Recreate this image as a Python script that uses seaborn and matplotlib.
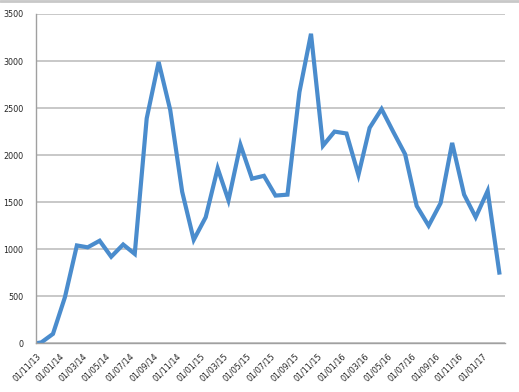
import matplotlib
matplotlib.use("Agg")
import matplotlib.pyplot as plt
import matplotlib.dates as mdates
from matplotlib.lines import Line2D
import seaborn as sns
import pandas as pd

dates = ["2013-11-01"] + [f"{y}-{m:02d}-15" for y, m in
         [(2013, 11), (2013, 12)] + [(2014, m) for m in range(1, 13)] +
         [(2015, m) for m in range(1, 13)] + [(2016, m) for m in range(1, 13)] +
         [(2017, 1), (2017, 2)]]
values = [0, 10, 100, 490, 1040, 1020, 1090, 920, 1050, 950,
          2390, 2990, 2480, 1610, 1100, 1340, 1860, 1520, 2110, 1750,
          1780, 1570, 1580, 2670, 3290, 2100, 2250, 2230, 1790, 2290,
          2490, 2250, 2010, 1460, 1250, 1490, 2130, 1580, 1340, 1620, 730]
tick_dates = pd.date_range("2013-11-01", "2017-01-01", freq="2MS")
tick_labels = [d.strftime("%d/%m/%y") for d in tick_dates]

df = pd.DataFrame({"date": pd.to_datetime(dates), "value": values})

sns.set_style("white")
plt.rcParams["font.family"] = ["DejaVu Sans"]

fig = plt.figure(figsize=(5.19, 3.92), dpi=100)
ax = fig.add_axes([36/519, 1-343.3/392, (505-36)/519, (343.3-14)/392])

sns.lineplot(data=df, x="date", y="value", ax=ax, color="#4a8ccd",
             linewidth=3.0, solid_joinstyle="miter", solid_capstyle="butt")

ax.set_xlim(pd.Timestamp("2013-11-01"), pd.Timestamp("2017-03-01"))
ax.set_ylim(0, 3500)
ax.set_yticks(range(0, 3501, 500))
ax.yaxis.grid(True, color="#c4c4c4", linewidth=1.3)
ax.set_axisbelow(True)
ax.set_xticks(list(tick_dates) + [pd.Timestamp("2017-03-01")])
ax.set_xticklabels(tick_labels + [""], rotation=45, ha="right",
                   rotation_mode="anchor", fontsize=5.8)
ax.tick_params(axis="y", labelsize=5.8, length=3, color="#999999", pad=6)
ax.tick_params(axis="x", length=4, color="#999999", pad=2)
ax.set_xlabel("")
ax.set_ylabel("")
for s in ["top", "right"]:
    ax.spines[s].set_visible(False)
for s in ["left", "bottom"]:
    ax.spines[s].set_color("#a0a0a0")
    ax.spines[s].set_linewidth(1.0)

# light gray band at the very top of the image
fig.add_artist(Line2D([0, 1], [0.998, 0.998], transform=fig.transFigure,
                      color="#c8c8c8", linewidth=2))

fig.savefig("out.png", dpi=100)
